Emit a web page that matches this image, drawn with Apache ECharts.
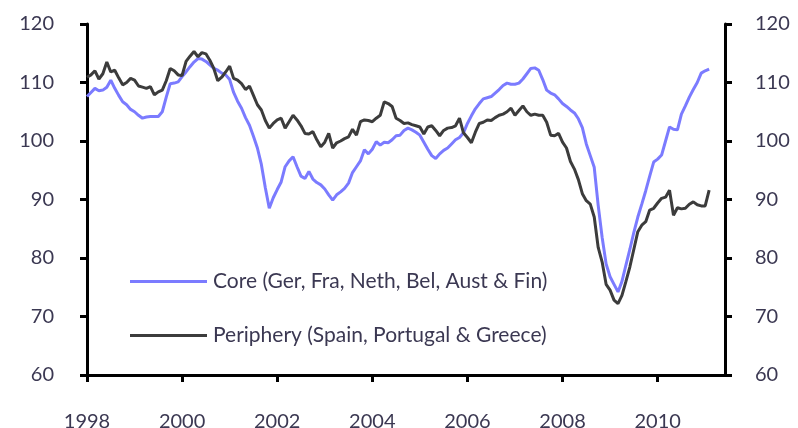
<!DOCTYPE html>
<html>
<head>
<meta charset="utf-8">
<script src="https://cdn.jsdelivr.net/npm/echarts@6/dist/echarts.min.js"></script>
<style>
  html, body { margin: 0; padding: 0; background: #fff; }
  #main { width: 798px; height: 428px; }
</style>
</head>
<body>
<div id="main"></div>
<script>
// monthly index, Jan 1998 .. Feb 2011
var startYear = 1998;
var monthsOnAxis = 162; // axis runs to mid 2011
var yearLabels = ['1998', '2000', '2002', '2004', '2006', '2008', '2010'];
var yTicks = [60, 70, 80, 90, 100, 110, 120];

var coreName = 'Core (Ger, Fra, Neth, Bel, Aust & Fin)';
var periName = 'Periphery (Spain, Portugal & Greece)';

var coreValues = [
  107.6, 108.3, 109.0, 108.6, 108.7, 109.2, 110.4, 109.0, 107.8, 106.7, 106.2, 105.4,
  105.0, 104.4, 103.9, 104.1, 104.2, 104.2, 104.2, 105.0, 107.5, 109.8, 109.9, 110.1,
  111.0, 111.8, 112.7, 113.5, 114.1, 114.0, 113.6, 113.0, 112.4, 112.1, 111.6, 111.3,
  110.5, 108.3, 106.8, 105.6, 104.0, 102.7, 100.8, 98.8, 96.0, 92.0, 88.5, 90.3,
  91.7, 93.0, 95.6, 96.6, 97.3, 95.6, 94.0, 93.6, 94.8, 93.5, 92.9, 92.5,
  91.8, 90.8, 89.9, 90.8, 91.3, 91.9, 92.8, 94.6, 95.6, 96.6, 98.5, 97.8,
  98.6, 99.9, 99.3, 99.8, 99.7, 100.2, 100.9, 101.0, 101.8, 102.2, 101.9, 101.5,
  101.0, 99.8, 98.6, 97.5, 97.0, 97.8, 98.4, 98.8, 99.5, 100.2, 100.6, 101.4,
  103.0, 104.3, 105.5, 106.4, 107.2, 107.4, 107.6, 108.2, 108.8, 109.5, 109.9, 109.7,
  109.7, 109.9, 110.6, 111.5, 112.4, 112.5, 112.1, 110.5, 108.7, 108.2, 107.9, 107.2,
  106.4, 105.9, 105.3, 104.8, 103.8, 102.3, 99.5, 97.5, 95.5, 89.0, 83.5, 79.0,
  76.8, 75.5, 74.2, 76.0, 78.8, 81.5, 84.4, 87.0, 89.2, 91.5, 94.0, 96.4,
  96.9, 97.6, 100.0, 102.4, 102.0, 101.9, 104.6, 106.0, 107.5, 108.8, 110.0, 111.6,
  112.0, 112.3
];

var periValues = [
  110.9, 111.3, 112.0, 110.6, 111.5, 113.5, 111.8, 112.1, 110.8, 109.6, 110.0, 110.7,
  110.4, 109.4, 109.2, 109.0, 109.3, 107.9, 108.4, 108.7, 110.3, 112.4, 112.0, 111.3,
  111.2, 113.6, 114.5, 115.3, 114.4, 115.1, 114.9, 113.8, 112.4, 110.3, 110.9, 111.8,
  112.8, 110.7, 110.4, 109.8, 108.8, 109.4, 107.8, 106.2, 105.3, 103.5, 102.2, 103.0,
  103.6, 103.9, 102.2, 103.3, 104.4, 103.6, 102.6, 101.3, 101.2, 101.6, 100.2, 99.0,
  99.8, 101.3, 98.8, 99.7, 100.0, 100.4, 100.7, 102.0, 101.0, 103.3, 103.6, 103.5,
  103.3, 103.9, 104.4, 106.7, 106.4, 105.9, 103.9, 103.5, 103.0, 103.1, 102.8, 102.6,
  102.4, 101.2, 102.4, 102.6, 101.8, 100.9, 101.8, 102.2, 102.3, 102.6, 103.9, 101.4,
  100.6, 99.7, 101.5, 103.0, 103.2, 103.6, 103.5, 104.0, 104.4, 104.6, 105.0, 105.6,
  104.4, 105.2, 106.0, 105.0, 104.4, 104.6, 104.4, 104.4, 103.2, 101.0, 100.9, 101.3,
  99.8, 98.8, 96.5, 95.2, 93.4, 91.0, 89.8, 89.2, 87.0, 81.8, 79.3, 75.5,
  74.5, 72.8, 72.2, 73.6, 76.0, 78.5, 81.5, 84.5, 85.6, 86.2, 88.2, 88.5,
  89.4, 90.2, 90.4, 91.6, 87.3, 88.6, 88.4, 88.5, 89.2, 89.6, 89.1, 88.9,
  88.9, 91.6
];

var months = [];
for (var i = 0; i < monthsOnAxis; i++) {
  var yr = startYear + Math.floor(i / 12);
  var mo = i % 12 + 1;
  months.push(yr + '-' + (mo < 10 ? '0' + mo : mo));
}

var textColor = '#3b3852';
var fontFamily = 'Lato, "Open Sans", sans-serif';

function yAxisCfg(pos) {
  return {
    type: 'value',
    position: pos,
    min: yTicks[0],
    max: yTicks[yTicks.length - 1],
    interval: yTicks[1] - yTicks[0],
    axisLine: {show: true, lineStyle: {color: '#000', width: 3}},
    axisTick: {show: true, length: 7, lineStyle: {color: '#000', width: 3}},
    axisLabel: {
      color: textColor,
      fontSize: 20,
      fontFamily: fontFamily,
      margin: pos === 'left' ? 33 : 30
    },
    splitLine: {show: false}
  };
}

var chart = echarts.init(document.getElementById('main'), null, {renderer: 'canvas'});
chart.setOption({
  animation: false,
  backgroundColor: '#fff',
  grid: {left: 87, right: 73, top: 24, bottom: 53, containLabel: false, outerBoundsMode: 'none'},
  legend: {
    orient: 'vertical',
    left: 125,
    top: 266,
    itemWidth: 77,
    itemHeight: 3,
    itemGap: 33,
    icon: 'rect',
    data: [coreName, periName],
    textStyle: {color: textColor, fontSize: 21, fontFamily: fontFamily, padding: [0, 0, 0, 1]}
  },
  xAxis: {
    type: 'category',
    data: months,
    boundaryGap: false,
    axisLine: {lineStyle: {color: '#000', width: 3}},
    axisTick: {show: true, interval: 23, length: 7, lineStyle: {color: '#000', width: 3}},
    axisLabel: {
      interval: 23,
      margin: 37,
      color: textColor,
      fontSize: 20,
      fontFamily: fontFamily,
      formatter: function (v) {
        var y = v.slice(0, 4);
        return yearLabels.indexOf(y) >= 0 ? y : '';
      }
    },
    splitLine: {show: false}
  },
  yAxis: [yAxisCfg('left'), yAxisCfg('right')],
  series: [
    {
      name: coreName,
      type: 'line',
      data: coreValues,
      showSymbol: false,
      symbol: 'none',
      itemStyle: {color: '#7b7bff'},
      lineStyle: {color: '#7b7bff', width: 3}
    },
    {
      name: periName,
      type: 'line',
      data: periValues,
      showSymbol: false,
      symbol: 'none',
      itemStyle: {color: '#3c3c3c'},
      lineStyle: {color: '#3c3c3c', width: 3}
    }
  ]
});
</script>
</body>
</html>
